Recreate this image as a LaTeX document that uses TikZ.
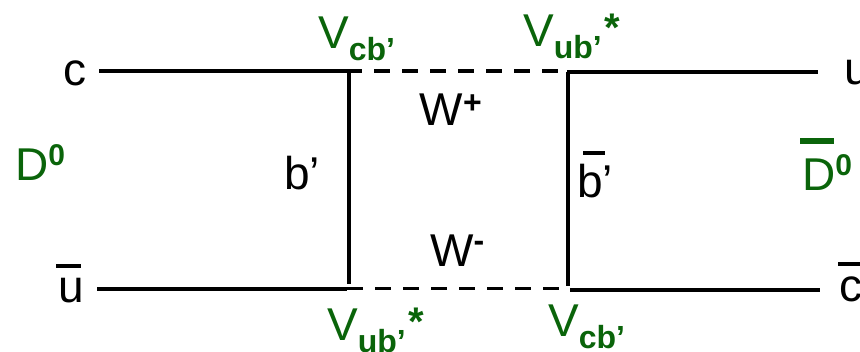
\documentclass[tikz,border=0pt]{standalone}
\usepackage{fontspec}
\setmainfont{Liberation Sans}
\definecolor{grn}{RGB}{10,100,10}
\tikzset{
 lbl/.style={inner sep=0pt,font=\fontsize{46}{50}\selectfont,text=black,anchor=base west},
 glbl/.style={lbl,text=grn},
 quark/.style={line width=3.6pt},
 boson/.style={line width=3.2pt,dash pattern=on 16pt off 12pt},
 bar/.style={line width=3.6pt},
 gbar/.style={line width=5.5pt,grn},
}
\newcommand{\pxs}[1]{\fontsize{32}{34}\selectfont\bfseries #1}
\newcommand{\pxz}[1]{\fontsize{30}{32}\selectfont\bfseries #1}
\newcommand{\pxw}[1]{\fontsize{32}{34}\selectfont\bfseries #1}
\newcommand{\pxa}{\kern3pt\fontsize{40}{42}\selectfont\bfseries *}
\begin{document}
\begin{tikzpicture}[x=1pt,y=-1pt]
\useasboundingbox (0,0) rectangle (860,352);
\clip (0,0) rectangle (860,352);
\coordinate (a1) at (99,71);
\coordinate (a2) at (346,71);
\coordinate (a2v) at (349,71);
\coordinate (a3) at (568,71);
\coordinate (a3r) at (567,72);
\coordinate (a3v) at (568,72);
\coordinate (a4) at (818,72);
\coordinate (b1) at (97,289);
\coordinate (b2) at (347,288.5);
\coordinate (b2l) at (347,289);
\coordinate (b2v) at (349,284);
\coordinate (b3) at (568,288.5);
\coordinate (b3v) at (568,286);
\coordinate (b3r) at (570,290);
\coordinate (b4) at (820,290);
\draw[quark] (a1)--(a2v) (a3r)--(a4) (b1)--(b2l) (b3r)--(b4) (a2v)--(b2v) (a3v)--(b3v);
\draw[boson] (a2)--(a3);
\draw[boson] (b2)--(b3);
\node[lbl] (c1) at (63,86) {c};
\node[lbl] (u1) at (58,303) {u};
\coordinate (ub1) at (56,266); \coordinate (ub2) at (81,266);
\draw[bar] (ub1)--(ub2);
\node[lbl] (u2) at (844,85) {u};
\node[lbl] (c2) at (839,302) {c};
\coordinate (cb1) at (838,264); \coordinate (cb2) at (862,264);
\draw[bar] (cb1)--(cb2);
\node[lbl] (bp) at (284,190) {b’};
\node[lbl] (bb) at (577,198) {b’};
\coordinate (bb1) at (583,153); \coordinate (bb2) at (605,153);
\draw[bar] (bb1)--(bb2);
\node[lbl] (wp) at (419.5,126) {W\raisebox{12pt}{\pxw{+}}};
\node[lbl] (wm) at (430,267) {W\raisebox{15pt}{\pxw{-}}};
\node[glbl] (d1) at (15,181) {D\raisebox{15pt}{\pxz{0}}};
\node[glbl] (d2) at (802,191) {D\raisebox{15pt}{\pxz{0}}};
\coordinate (db1) at (800,141); \coordinate (db2) at (834,141);
\draw[gbar] (db1)--(db2);
\node[glbl] (v1) at (318,49) {V\raisebox{-12pt}{\pxs{cb’}}};
\node[glbl] (v2) at (523,47) {V\raisebox{-12pt}{\pxs{ub’}}\raisebox{5pt}{\pxa}};
\node[glbl] (v3) at (327,341) {V\raisebox{-12pt}{\pxs{ub’}}\raisebox{5pt}{\pxa}};
\node[glbl] (v4) at (548,337) {V\raisebox{-12pt}{\pxs{cb’}}};
\end{tikzpicture}
\end{document}
